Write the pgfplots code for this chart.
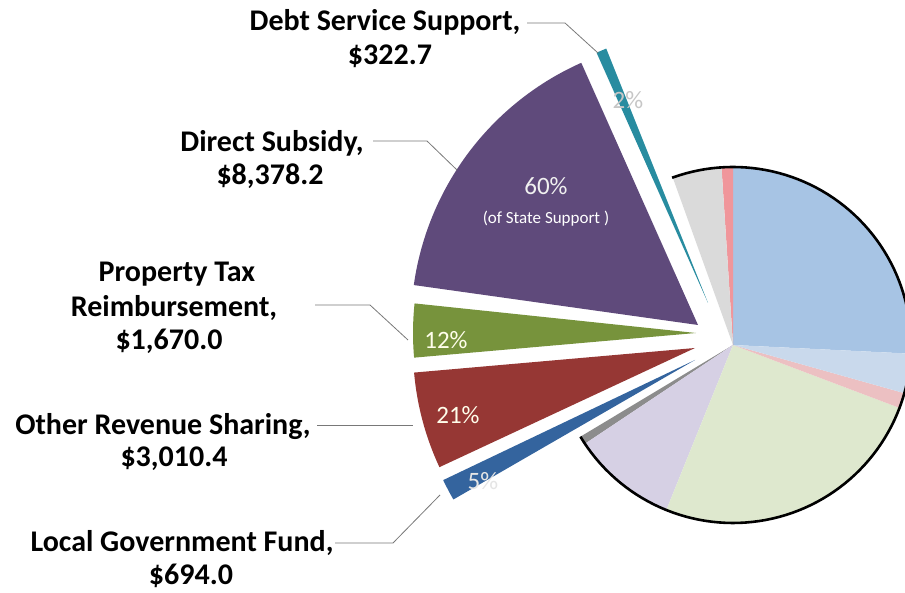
\documentclass[border=0pt]{standalone}
\usepackage{pgfplots}
\pgfplotsset{compat=1.18}
\usepackage{fontspec}
\setmainfont{Carlito}

\definecolor{cLBlue}{RGB}{167,196,228}
\definecolor{cPBlue}{RGB}{201,217,236}
\definecolor{cPink}{RGB}{240,150,155}
\definecolor{cPinkS}{RGB}{236,192,194}
\definecolor{cLGreen}{RGB}{222,232,206}
\definecolor{cLav}{RGB}{214,208,228}
\definecolor{cLGray}{RGB}{218,218,218}
\definecolor{cDGray}{RGB}{140,140,140}
\definecolor{cTeal}{RGB}{40,140,160}
\definecolor{cPurple}{RGB}{95,74,123}
\definecolor{cGreen}{RGB}{119,147,60}
\definecolor{cRed}{RGB}{150,55,52}
\definecolor{cBlue}{RGB}{52,100,158}
\definecolor{cLead}{RGB}{120,120,120}

% slice: colour, centre x, centre y, radius, start angle, end angle
\newcommand{\slice}[6]{%
  \addplot[draw=none, fill=#1, domain=#5:#6, samples=60, variable=\t]
    ({#2+#4*cos(\t)}, {#3+#4*sin(\t)}) -- (#2,#3) -- cycle;
}
\newcommand{\lab}[3]{\node[anchor=base, font=\fontsize{30}{35}\selectfont\bfseries] at (#1,#2) {#3};}

\begin{document}
\begin{tikzpicture}
\begin{axis}[
  x=1pt, y=1pt, scale only axis,
  xmin=0, xmax=905, ymin=0, ymax=593,
  hide axis, clip=true,
]
\coordinate (bl) at (0,0);
\coordinate (tr) at (905,593);
% rest of the budget (main pie), centre (733,248), r=178
\slice{cLBlue}{733}{248}{178}{-2.8}{90}
\slice{cPink}{733}{248}{178}{90}{93.7}
\slice{cLGray}{733}{248}{178}{93.7}{109.8}
\slice{cDGray}{733}{248}{178}{211}{213.7}
\slice{cLav}{733}{248}{178}{213.7}{248}
\slice{cLGreen}{733}{248}{178}{248}{339.3}
\slice{cPinkS}{733}{248}{178}{339.3}{344.3}
\slice{cPBlue}{733}{248}{178}{344.3}{357.2}
\addplot[black, line width=2.6pt, domain=-149:110, samples=120, variable=\t]
  ({733+178*cos(\t)}, {248+178*sin(\t)});

% state support, exploded
\slice{cTeal}{708}{290}{274}{111.8}{114}
\slice{cPurple}{698}{268}{287}{114}{172}
\slice{cGreen}{696}{260}{283}{174}{185}
\slice{cRed}{695}{245}{282}{185}{205}
\slice{cBlue}{695}{233}{279}{205.5}{210}

% leader lines
\addplot[cLead, line width=0.8pt] coordinates {(527,570) (565,570) (598,540)};
\addplot[cLead, line width=0.8pt] coordinates {(373,452) (427,452) (457,423)};
\addplot[cLead, line width=0.8pt] coordinates {(315,288) (370,288) (408,253)};
\addplot[cLead, line width=0.8pt] coordinates {(317,168) (413,168)};
\addplot[cLead, line width=0.8pt] coordinates {(335,50) (393,50) (440,98)};

% labels
\lab{385}{562}{Debt Service Support,}
\lab{390}{528}{\$322.7}
\lab{272}{441}{Direct Subsidy,}
\lab{270}{408}{\$8,378.2}
\lab{177}{311}{Property Tax}
\lab{174}{276}{Reimbursement,}
\lab{169}{243}{\$1,670.0}
\lab{163}{158}{Other Revenue Sharing,}
\lab{174}{126}{\$3,010.4}
\lab{182}{41}{Local Government Fund,}
\lab{191}{8}{\$694.0}

% percentages
\node[font=\fontsize{25}{30}\selectfont, text=gray!45] at (628,493) {2\%};
\node[font=\fontsize{25}{30}\selectfont, text=white!94!black] at (546,407) {60\%};
\node[font=\fontsize{17}{20}\selectfont, text=white] at (546,374) {(of State Support )};
\node[font=\fontsize{25}{30}\selectfont, text=white!92!yellow] at (446,253) {12\%};
\node[font=\fontsize{25}{30}\selectfont, text=white!92!yellow] at (458,178) {21\%};
\node[font=\fontsize{25}{30}\selectfont, text=white!90!black] at (483,112) {5\%};
\end{axis}
\pgfresetboundingbox
\path[use as bounding box] (bl) rectangle (tr);
\end{tikzpicture}
\end{document}
